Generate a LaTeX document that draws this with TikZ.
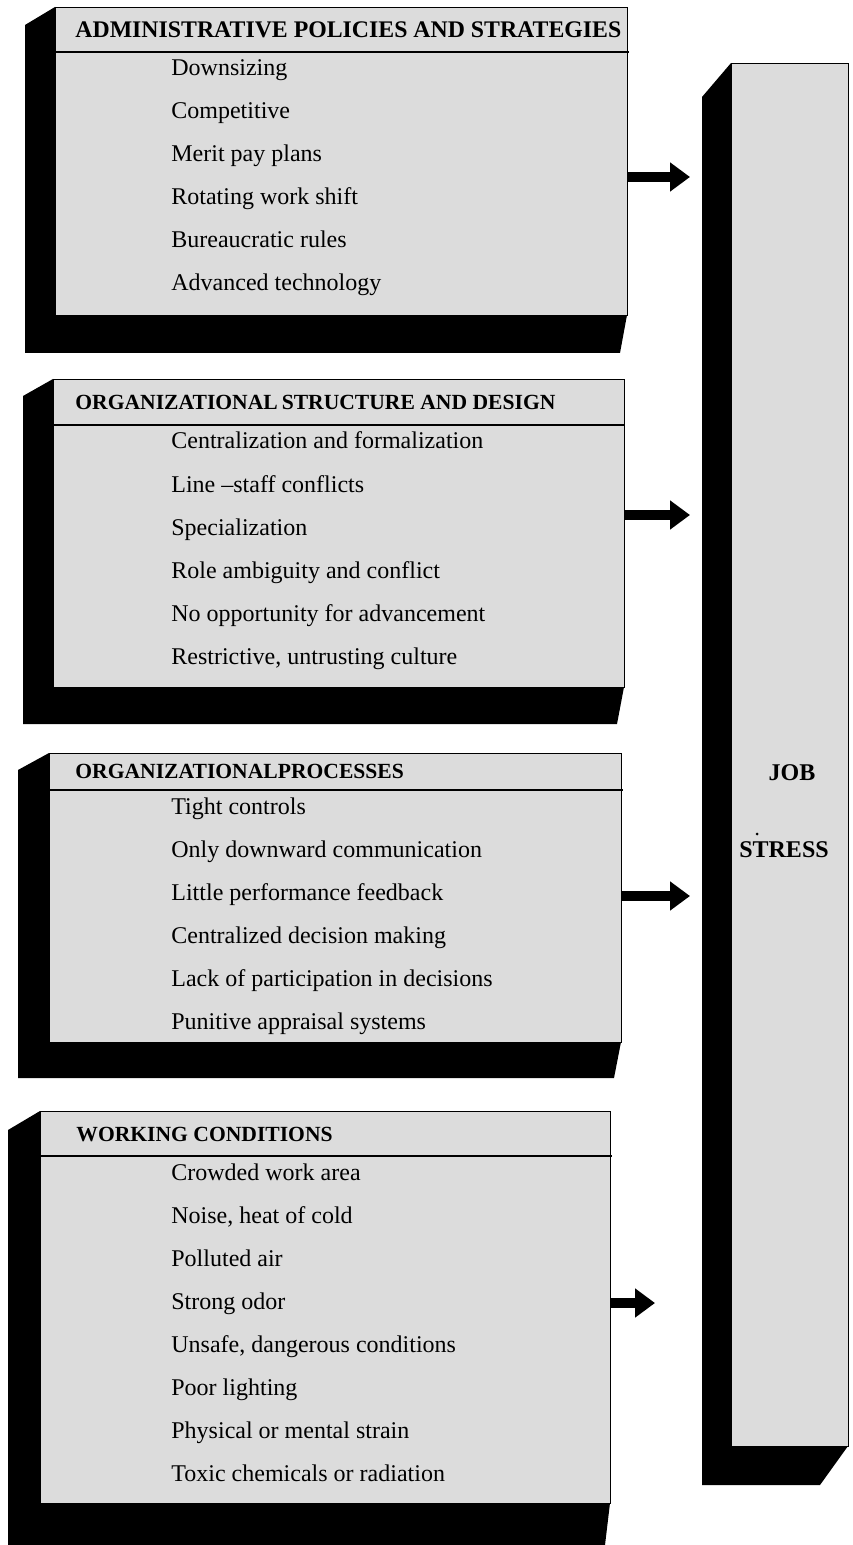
\documentclass[tikz,border=0pt]{standalone}
\usepackage{fontspec}
\setmainfont{Liberation Serif}
\usetikzlibrary{arrows.meta}
\definecolor{panelgray}{RGB}{220,220,220}

\begin{document}
\begin{tikzpicture}[x=0.5pt,y=-0.5pt,
  panel/.style={draw=black,line width=0.6pt,fill=panelgray,anchor=north west,inner sep=0pt},
  shadow/.style={fill=black},
  title/.style={font=\fontsize{10.8}{13}\selectfont\bfseries,anchor=west,inner sep=0pt},
  entry/.style={font=\fontsize{12}{14}\selectfont,anchor=west,inner sep=0pt,text height=8.5pt,text depth=2.5pt},
  bigarrow/.style={line width=5pt,-{Triangle[length=10pt,width=14pt]}}]

\useasboundingbox (0,0) rectangle (852,1545);

% shadows
\fill[shadow] (55,7) -- (25,25) -- (25,353) -- (620,353) -- (627,315) -- cycle;
\fill[shadow] (53,379) -- (23,396) -- (23,724) -- (617,724) -- (624,687) -- cycle;
\fill[shadow] (49,753) -- (18,770) -- (18,1078) -- (614,1078) -- (621,1042) -- cycle;
\fill[shadow] (40,1111) -- (8,1130) -- (8,1545) -- (605,1545) -- (610,1503) -- cycle;
\fill[shadow] (731,63) -- (702,97) -- (702,1485) -- (820,1485) -- (848,1446) -- cycle;

% panels
\node[panel,minimum width=286pt,minimum height=154pt] (adm) at (55,7) {};
\node[panel,minimum width=285.5pt,minimum height=154pt] (struct) at (53,379) {};
\node[panel,minimum width=286pt,minimum height=144.5pt] (proc) at (49,753) {};
\node[panel,minimum width=285pt,minimum height=196pt] (work) at (40,1111) {};
\node[panel,minimum width=58.5pt,minimum height=691.5pt] (job) at (731,63) {};

% header rules
\draw[line width=0.6pt] (55,52) -- (629,52);
\draw[line width=0.6pt] (53,425) -- (625,425);
\draw[line width=0.6pt] (49,790) -- (623,790);
\draw[line width=0.6pt] (40,1156) -- (612,1156);

% administrative
\node[title,font=\fontsize{11.9}{14}\selectfont\bfseries] (admt) at (75,30) {ADMINISTRATIVE POLICIES AND STRATEGIES};
\node[entry] (adm1) at (171,70) {Downsizing};
\node[entry] (adm2) at (171,113) {Competitive};
\node[entry] (adm3) at (171,156) {Merit pay plans};
\node[entry] (adm4) at (171,199) {Rotating work shift};
\node[entry] (adm5) at (171,242) {Bureaucratic rules};
\node[entry] (adm6) at (171,285) {Advanced technology};

% structure
\node[title] (structt) at (75,402) {ORGANIZATIONAL\hspace{2pt}STRUCTURE AND DESIGN};
\node[entry] (struct1) at (171,443) {Centralization and formalization};
\node[entry] (struct2) at (171,486) {Line –staff conflicts};
\node[entry] (struct3) at (171,529) {Specialization};
\node[entry] (struct4) at (171,572) {Role ambiguity and conflict};
\node[entry] (struct5) at (171,615) {No opportunity for advancement};
\node[entry] (struct6) at (171,658) {Restrictive, untrusting culture};

% processes
\node[title] (proct) at (75,771) {ORGANIZATIONALPROCESSES};
\node[entry] (proc1) at (171,808) {Tight controls};
\node[entry] (proc2) at (171,851) {Only downward communication};
\node[entry] (proc3) at (171,894) {Little performance feedback};
\node[entry] (proc4) at (171,937) {Centralized decision making};
\node[entry] (proc5) at (171,980) {Lack of participation in decisions};
\node[entry] (proc6) at (171,1023) {Punitive appraisal systems};

% working conditions
\node[title] (workt) at (76,1134) {WORKING CONDITIONS};
\node[entry] (work1) at (171,1174) {Crowded work area};
\node[entry] (work2) at (171,1217) {Noise, heat of cold};
\node[entry] (work3) at (171,1260) {Polluted air};
\node[entry] (work4) at (171,1303) {Strong odor};
\node[entry] (work5) at (171,1346) {Unsafe, dangerous conditions};
\node[entry] (work6) at (171,1389) {Poor lighting};
\node[entry] (work7) at (171,1432) {Physical or mental strain};
\node[entry] (work8) at (171,1475) {Toxic chemicals or radiation};

% job stress
\node[font=\fontsize{12}{14}\selectfont\bfseries] (jobt) at (792,773) {JOB};
\node[font=\fontsize{12}{14}\selectfont\bfseries] (stresst) at (784,850) {STRESS};
\fill (757,834) circle (1.5);

% arrows
\coordinate (a1) at (690,177);
\coordinate (a2) at (690,515);
\coordinate (a3) at (690,896);
\coordinate (a4) at (655,1303);
\draw[bigarrow] (adm.east |- a1) -- (a1);
\draw[bigarrow] (struct.east |- a2) -- (a2);
\draw[bigarrow] (proc.east |- a3) -- (a3);
\draw[bigarrow] (work.east |- a4) -- (a4);

\end{tikzpicture}
\end{document}
